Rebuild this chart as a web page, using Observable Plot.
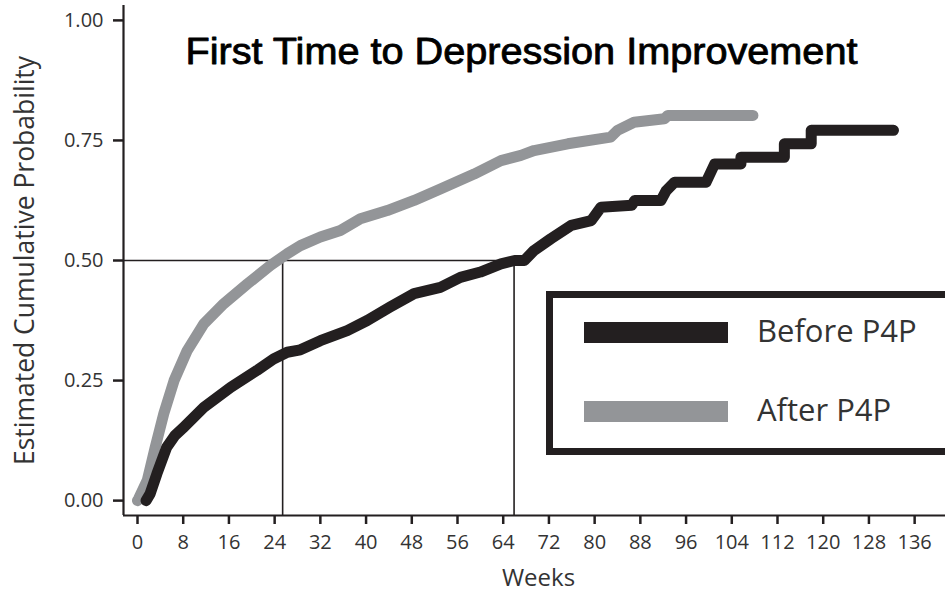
<!DOCTYPE html>
<html>
<head>
<meta charset="utf-8">
<script src="https://cdn.jsdelivr.net/npm/d3@7"></script>
<script src="https://cdn.jsdelivr.net/npm/@observablehq/plot@0.6"></script>
<style>
  html, body { margin: 0; padding: 0; background: #fff; overflow: hidden; }
  #wrap { position: relative; width: 945px; height: 594px; }
  .legend-box { position: absolute; left: 546px; top: 291px; width: 420px; height: 164px; box-sizing: border-box; border: 7px solid #231f20; background: #fff; }
  .swatch { position: absolute; left: 584px; width: 144px; height: 21px; }
  .ltext { position: absolute; left: 757px; font-family: "Open Sans", sans-serif; font-size: 31px; line-height: 31px; color: #333; white-space: nowrap; }
</style>
</head>
<body>
<div id="wrap"></div>
<script>
// ---- data ----
const titleText = "First Time to Depression Improvement";
const xLabel = "Weeks";
const yLabel = "Estimated Cumulative Probability";
const seriesNames = ["Before P4P", "After P4P"];
const seriesColors = ["#231f20", "#939598"];

const afterWeeks = [0, 0.2, 1.7, 3.1, 4.6, 6.4, 8.7, 11.6, 15.1, 19.2, 23.3, 26.2, 28.5, 32, 35.5, 39, 43.7, 48.4, 53, 58.9, 63.6, 67.1, 69.4, 75.3, 82.8, 84, 86.9, 92.2, 92.8, 107.7];
const afterProb  = [0, 0.004, 0.042, 0.111, 0.181, 0.25, 0.3125, 0.368, 0.41, 0.451, 0.49, 0.514, 0.531, 0.549, 0.5625, 0.587, 0.604, 0.625, 0.649, 0.68, 0.708, 0.719, 0.729, 0.743, 0.757, 0.771, 0.788, 0.795, 0.802, 0.802];

const beforeWeeks = [1.5, 2.2, 3.4, 5.1, 6.5, 8.1, 11.6, 16.3, 20.9, 23.8, 26.2, 28.5, 32, 36.7, 40.2, 44.2, 48.4, 53, 56.5, 60, 63.6, 66, 67.7, 69.4, 72.3, 75.9, 79.4, 81.1, 86.5, 87, 91.6, 92.5, 94, 99.5, 101, 105.6, 105.6, 113.2, 113.2, 117.9, 117.9, 132.3];
const beforeProb  = [0, 0.014, 0.056, 0.111, 0.135, 0.153, 0.194, 0.236, 0.271, 0.295, 0.309, 0.314, 0.333, 0.354, 0.375, 0.403, 0.431, 0.444, 0.465, 0.476, 0.493, 0.5, 0.5, 0.521, 0.545, 0.573, 0.583, 0.611, 0.615, 0.625, 0.625, 0.645, 0.663, 0.663, 0.701, 0.701, 0.715, 0.715, 0.743, 0.743, 0.771, 0.771];

const medianWeeks = [25.4, 65.9];
const medianProb = 0.5;
const xTicks = [0, 8, 16, 24, 32, 40, 48, 56, 64, 72, 80, 88, 96, 104, 112, 120, 128, 136];
const yTicks = [0, 0.25, 0.5, 0.75, 1.0];
const xDomain = [-2.45, 141.4];
const yDomain = [-0.031, 1.031];

const after = afterWeeks.map((w, i) => ({week: w, prob: afterProb[i]}));
const before = beforeWeeks.map((w, i) => ({week: w, prob: beforeProb[i]}));

const ink = "#231f20";

const chart = Plot.plot({
  width: 945,
  height: 594,
  marginLeft: 123,
  marginRight: 0,
  marginTop: 5,
  marginBottom: 79,
  style: {fontFamily: "'Open Sans', sans-serif", color: "#333", background: "#fff"},
  x: {domain: xDomain},
  y: {domain: yDomain},
  marks: [
    Plot.ruleY([medianProb], {x1: xDomain[0], x2: medianWeeks[1], stroke: ink, strokeWidth: 1.6}),
    Plot.ruleX(medianWeeks, {y1: yDomain[0], y2: medianProb, stroke: ink, strokeWidth: 1.6}),
    Plot.line(after, {x: "week", y: "prob", stroke: seriesColors[1], strokeWidth: 11, strokeLinecap: "round", strokeLinejoin: "round"}),
    Plot.line(before, {x: "week", y: "prob", stroke: seriesColors[0], strokeWidth: 11, strokeLinecap: "round", strokeLinejoin: "round"}),
    Plot.ruleX([xDomain[0]], {stroke: ink, strokeWidth: 2.2}),
    Plot.ruleY([yDomain[0]], {stroke: ink, strokeWidth: 2.2}),
    Plot.axisX(xTicks, {tickSize: 9, tickPadding: 10, fontSize: 20, stroke: ink, strokeWidth: 2.5, fill: "#333", label: null, tickFormat: d3.format("d")}),
    Plot.axisY(yTicks, {tickSize: 10, tickPadding: 10, fontSize: 20, stroke: ink, strokeWidth: 2.5, fill: "#333", label: null, tickFormat: d3.format(".2f")}),
    Plot.text([xLabel], {frameAnchor: "bottom", textAnchor: "middle", lineAnchor: "bottom", dx: 4, dy: 70, fontSize: 24, fill: "#333"}),
    Plot.text([yLabel], {frameAnchor: "left", textAnchor: "middle", lineAnchor: "middle", rotate: -90, dx: -98, fontSize: 26.5, fill: "#333"}),
    Plot.text([titleText], {frameAnchor: "top", textAnchor: "middle", lineAnchor: "bottom", dx: -13, dy: 58, fontSize: 36, fill: "#000", stroke: "#000", strokeWidth: 0.8, fontFamily: "'Liberation Sans', Arial, sans-serif"})
  ]
});

const wrap = document.getElementById("wrap");
wrap.appendChild(chart);

// fit title to the reference width
d3.select(chart).selectAll("text").filter(function() { return this.textContent === titleText; })
  .attr("textLength", 672).attr("lengthAdjust", "spacingAndGlyphs");

// legend (HTML overlay)
const box = document.createElement("div");
box.className = "legend-box";
wrap.appendChild(box);
const tops = [322, 401];
const textTops = [315, 394];
seriesNames.forEach((name, i) => {
  const sw = document.createElement("div");
  sw.className = "swatch";
  sw.style.top = tops[i] + "px";
  sw.style.background = seriesColors[i];
  wrap.appendChild(sw);
  const t = document.createElement("div");
  t.className = "ltext";
  t.style.top = textTops[i] + "px";
  t.textContent = name;
  wrap.appendChild(t);
});
</script>
</body>
</html>
